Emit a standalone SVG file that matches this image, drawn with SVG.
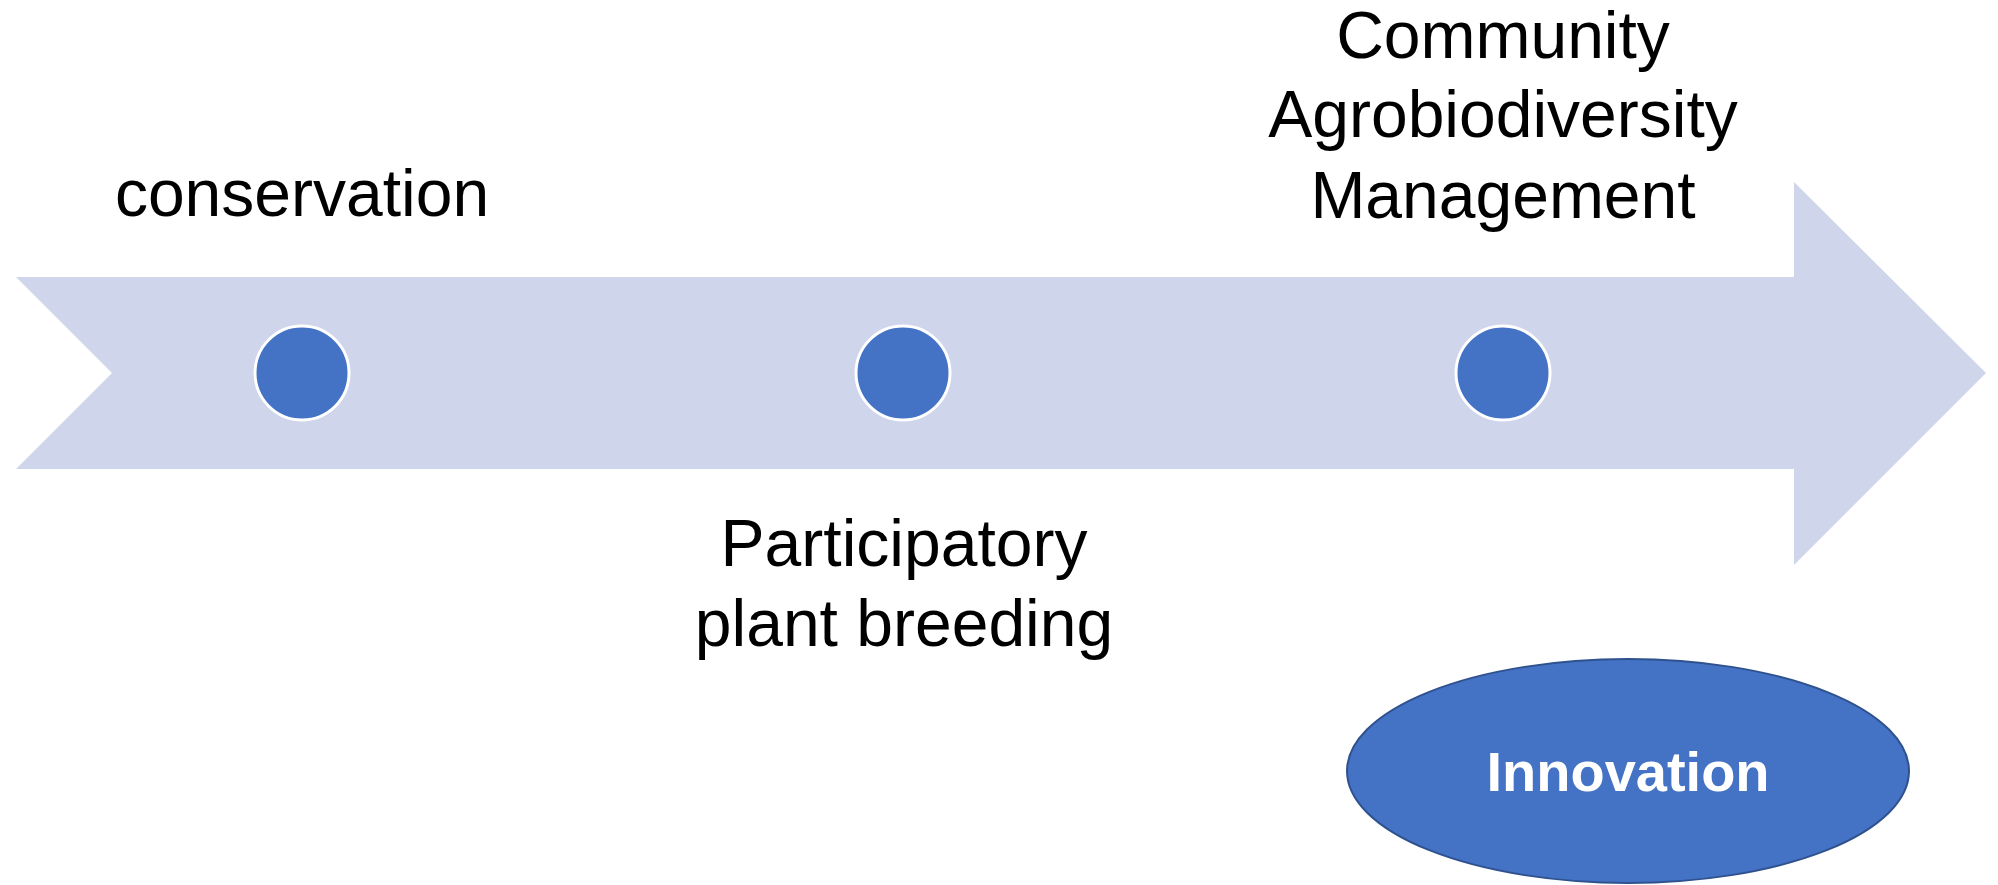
<svg xmlns="http://www.w3.org/2000/svg" width="1998" height="885" viewBox="0 0 1998 885">
<style>
.lbl{font-family:"Liberation Sans",Arial,sans-serif;font-size:66px;fill:#000;text-anchor:middle}
.dot{fill:#4472C4;stroke:#fff;stroke-width:3}
.inn{font-family:"Liberation Sans",Arial,sans-serif;font-size:56px;font-weight:bold;fill:#fff;text-anchor:middle}
</style>
<rect width="1998" height="885" fill="#fff"/>
<g id="arrow">
<polygon points="16,277 1794,277 1794,182 1986,373 1794,565 1794,469 16,469 112,373" fill="#CFD5EA"/>
</g>
<g id="connectors"></g>
<g id="node-conservation">
<circle class="dot" cx="302" cy="373" r="47"/>
<text class="lbl" x="302" y="216">conservation</text>
</g>
<g id="node-ppb">
<circle class="dot" cx="903" cy="373" r="47"/>
<text class="lbl" x="904" y="566">Participatory</text>
<text class="lbl" x="904" y="646">plant breeding</text>
</g>
<g id="node-cam">
<circle class="dot" cx="1503" cy="373" r="47"/>
<text class="lbl" x="1503" y="58">Community</text>
<text class="lbl" x="1503" y="137">Agrobiodiversity</text>
<text class="lbl" x="1503" y="218">Management</text>
</g>
<g id="node-innovation">
<ellipse cx="1628" cy="771" rx="281" ry="112" fill="#4472C4" stroke="#2F528F" stroke-width="2"/>
<text class="inn" x="1628" y="791">Innovation</text>
</g>
</svg>
